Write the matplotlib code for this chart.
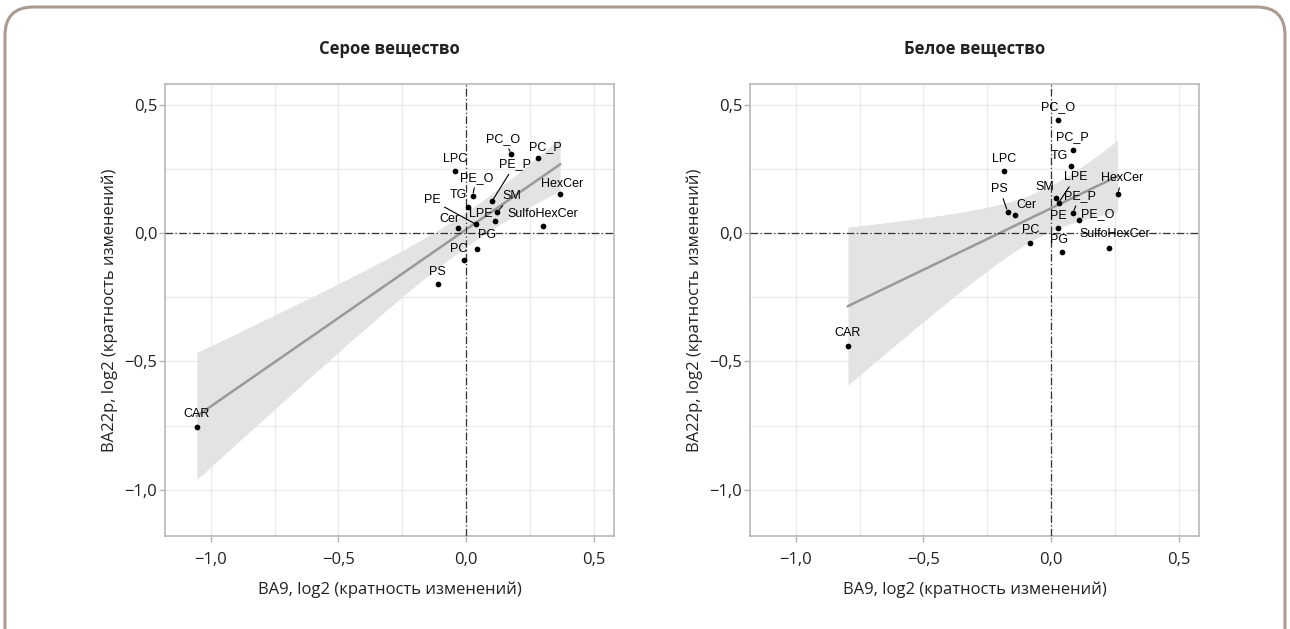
import numpy as np
import matplotlib
matplotlib.use("Agg")
import matplotlib.pyplot as plt
from matplotlib.patches import FancyBboxPatch
from matplotlib.ticker import FixedLocator

plt.rcParams['font.family'] = ['Open Sans', 'DejaVu Sans']

# данные: липиды, BA9 (x) и BA22p (y), log2
lipids_grey = ["PC_O", "PC_P", "LPC", "HexCer", "PE_O", "TG", "PE_P", "SM",
               "PE", "LPE", "Cer", "SulfoHexCer", "PG", "PC", "PS", "CAR"]
x_grey = [0.178, 0.281, -0.043, 0.369, 0.026, 0.006, 0.102, 0.123,
          0.040, 0.112, -0.031, 0.302, 0.043, -0.007, -0.111, -1.055]
y_grey = [0.309, 0.292, 0.241, 0.153, 0.146, 0.101, 0.124, 0.083,
          0.034, 0.049, 0.019, 0.027, -0.062, -0.106, -0.200, -0.757]

lipids_white = ["PC_O", "PC_P", "TG", "LPC", "HexCer", "SM", "LPE", "PS",
                "Cer", "PE_P", "PE_O", "PE", "PC", "PG", "SulfoHexCer", "CAR"]
x_white = [0.026, 0.085, 0.078, -0.183, 0.261, 0.018, 0.030, -0.170,
           -0.143, 0.086, 0.111, 0.029, -0.081, 0.044, 0.229, -0.796]
y_white = [0.439, 0.322, 0.261, 0.241, 0.153, 0.137, 0.118, 0.084,
           0.070, 0.079, 0.050, 0.021, -0.038, -0.073, -0.058, -0.439]

# смещения подписей (пиксели), True = рисовать отрезок
offs_grey = {"PC_O": (-8, -15, True), "PC_P": (8, -11, False), "LPC": (0, -12, False),
             "HexCer": (2, -10, False), "PE_O": (4, -18, True), "TG": (-9, -12, False),
             "PE_P": (23, -37, True), "SM": (14, -16, True), "PE": (-44, -24, True),
             "LPE": (-14, -7, False), "Cer": (-9, -9, False), "SulfoHexCer": (0, -12, False),
             "PG": (10, -14, False), "PC": (-5, -11, False), "PS": (0, -12, False),
             "CAR": (0, -13, False)}
offs_white = {"PC_O": (0, -13, False), "PC_P": (0, -13, False), "TG": (-12, -10, False),
              "LPC": (0, -12, False), "HexCer": (5, -16, True), "SM": (-11, -11, False),
              "LPE": (17, -26, True), "PS": (-8, -23, True), "Cer": (12, -10, False),
              "PE_P": (7, -17, True), "PE_O": (18, -6, False), "PE": (0, -12, False),
              "PC": (0, -13, False), "PG": (-3, -12, False), "SulfoHexCer": (5, -14, False),
              "CAR": (0, -13, False)}

titles = ["Серое вещество", "Белое вещество"]
lims = (-1.18, 0.58)
ticks = [-1.0, -0.5, 0.0, 0.5]
tick_labels = ["\u22121,0", "\u22120,5", "0,0", "0,5"]
minor = [-0.75, -0.25, 0.25]

fig = plt.figure(figsize=(12.9, 6.29), dpi=100)

border = FancyBboxPatch((5 / 1290, -0.05), 1280 / 1290, 0.05 + 622 / 629,
                        boxstyle="round,pad=0,rounding_size=0.022",
                        transform=fig.transFigure, facecolor="white",
                        edgecolor="#ab9a8d", linewidth=2.2, mutation_aspect=2.05,
                        zorder=-10)
fig.patches.append(border)

panels = [(0.1279, lipids_grey, x_grey, y_grey, offs_grey, titles[0]),
          (0.5814, lipids_white, x_white, y_white, offs_white, titles[1])]

for left, names, xs, ys, offs, title in panels:
    ax = fig.add_axes([left, 0.148, 0.348, 0.718])
    xs = np.array(xs)
    ys = np.array(ys)

    # линейная регрессия с 95% доверительным интервалом
    n = len(xs)
    b, a = np.polyfit(xs, ys, 1)
    xg = np.linspace(xs.min(), xs.max(), 100)
    yg = a + b * xg
    resid = ys - (a + b * xs)
    s = np.sqrt(np.sum(resid ** 2) / (n - 2))
    se = s * np.sqrt(1 / n + (xg - xs.mean()) ** 2 / np.sum((xs - xs.mean()) ** 2))
    t = 2.1448  # t(0.975, df=14)
    ax.fill_between(xg, yg - t * se, yg + t * se, color="#e3e3e3", lw=0, zorder=2)
    ax.plot(xg, yg, color="#999999", lw=1.8, zorder=3)

    ax.axhline(0, color="#333333", lw=0.9, ls=(0, (6, 2, 1, 2)), zorder=4)
    ax.axvline(0, color="#333333", lw=0.9, ls=(0, (6, 2, 1, 2)), zorder=4)

    ax.scatter(xs, ys, s=17, color="black", zorder=5, linewidths=0)

    for name, xv, yv in zip(names, xs, ys):
        dx, dy, seg = offs[name]
        kw = {}
        if seg:
            kw["arrowprops"] = dict(arrowstyle="-", color="black", lw=0.8,
                                    shrinkA=1, shrinkB=2)
        ax.annotate(name, (xv, yv), xytext=(dx * 0.72, -dy * 0.72),
                    textcoords="offset points", ha="center", va="center",
                    fontsize=9, family=["Liberation Sans", "DejaVu Sans"],
                    zorder=6, **kw)

    ax.set_xlim(lims)
    ax.set_ylim(lims)
    ax.xaxis.set_major_locator(FixedLocator(ticks))
    ax.yaxis.set_major_locator(FixedLocator(ticks))
    ax.set_xticklabels(tick_labels)
    ax.set_yticklabels(tick_labels)
    ax.xaxis.set_minor_locator(FixedLocator(minor))
    ax.yaxis.set_minor_locator(FixedLocator(minor))
    ax.grid(True, which="both", color="#ebebeb", lw=1.0, zorder=0)
    ax.set_axisbelow(True)
    ax.tick_params(which="major", direction="out", length=4.5, width=1,
                   color="#b3b3b3", labelsize=12, labelcolor="#222222")
    ax.tick_params(axis="x", pad=7)
    ax.tick_params(axis="y", pad=1)
    ax.tick_params(which="minor", length=0)
    for sp in ax.spines.values():
        sp.set_color("#b3b3b3")
        sp.set_linewidth(1.1)

    ax.set_xlabel("BA9, log2 (кратность изменений)", fontsize=12,
                  color="#222222", labelpad=10)
    ax.set_ylabel("BA22p, log2 (кратность изменений)", fontsize=12,
                  color="#222222", labelpad=5)
    ax.set_title(title, fontsize=12, fontweight="bold", color="#222222", pad=22)

fig.savefig("out.png", dpi=100)
